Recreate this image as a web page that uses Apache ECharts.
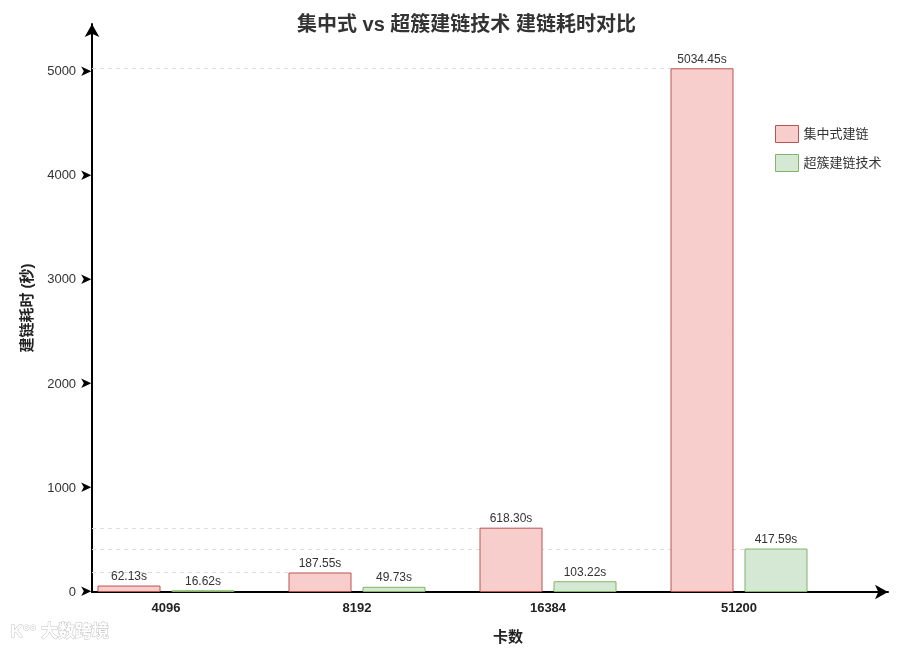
<!DOCTYPE html>
<html>
<head>
<meta charset="utf-8">
<script src="https://cdn.jsdelivr.net/npm/echarts@6/dist/echarts.min.js"></script>
<style>
  html, body { margin: 0; padding: 0; background: #fff; }
  #chart { width: 900px; height: 650px; }
</style>
</head>
<body>
<div id="chart"></div>
<script>
// ---- data ----
const categories = ['4096', '8192', '16384', '51200'];
const centralized = [62.13, 187.55, 618.30, 5034.45];
const superCluster = [16.62, 49.73, 103.22, 417.59];
const seriesNames = ['集中式建链', '超簇建链技术'];
const yTickValues = [0, 1000, 2000, 3000, 4000, 5000];
// dashed guide lines drawn from the y axis to these bars (series index, category index)
const guideBars = [[0, 1], [0, 2], [1, 3], [0, 3]];

// ---- layout / style constants ----
const FONT = '"Liberation Sans", "Noto Sans CJK SC", sans-serif';
const AXIS_X = 92;
const BAR_W = 63;
const BAR_GAP = 11;
const TOP = 24, BOTTOM = 58;
const Y_MAX = 5460;

const seriesValues = [centralized, superCluster];
const guideData = guideBars.map(([s, c]) => [c, seriesValues[s][c], s]);

const chart = echarts.init(document.getElementById('chart'));
chart.setOption({
  backgroundColor: '#fff',
  textStyle: { fontFamily: FONT },
  animation: false,
  title: {
    text: '集中式 vs 超簇建链技术 建链耗时对比',
    left: 292, top: 10,
    textStyle: { fontSize: 20, fontWeight: 'bold', color: '#333', fontFamily: FONT }
  },
  legend: {
    data: seriesNames,
    orient: 'vertical',
    left: 775, top: 125, padding: 0,
    itemWidth: 23, itemHeight: 17, itemGap: 11,
    icon: 'rect',
    itemStyle: { borderWidth: 1 },
    textStyle: { fontSize: 13, color: '#333', fontFamily: FONT }
  },
  grid: [
    { left: 70.5, right: 65.5, top: TOP, bottom: BOTTOM },
    { left: AXIS_X, right: 12, top: TOP, bottom: BOTTOM }
  ],
  xAxis: [
    {
      type: 'category', gridIndex: 0, data: categories,
      axisLine: { show: false }, axisTick: { show: false },
      axisLabel: { fontSize: 13, fontWeight: 'bold', color: '#222', margin: 10, fontFamily: FONT },
      splitLine: { show: false }
    },
    {
      type: 'value', gridIndex: 1, min: 0, max: 1,
      axisLine: { show: true, symbol: ['none', 'arrow'], symbolSize: [11, 13], lineStyle: { color: '#000', width: 2 } },
      axisTick: { show: false }, axisLabel: { show: false }, splitLine: { show: false },
      name: '卡数', nameLocation: 'middle', nameGap: 38,
      nameTextStyle: { fontSize: 15, fontWeight: 'bold', color: '#222', padding: [0, 0, 0, 36], fontFamily: FONT }
    }
  ],
  yAxis: [
    {
      type: 'value', gridIndex: 0, min: 0, max: Y_MAX, interval: 1000,
      show: false, splitLine: { show: false }
    },
    {
      type: 'value', gridIndex: 1, min: 0, max: Y_MAX, interval: 1000,
      axisLine: { show: true, symbol: ['none', 'arrow'], symbolSize: [11, 13], lineStyle: { color: '#000', width: 2 } },
      axisTick: { show: false }, splitLine: { show: false },
      axisLabel: {
        margin: 0,
        formatter: v => yTickValues.includes(v) ? '{v|' + v + '} {a|➤}' : '',
        rich: {
          v: { fontSize: 13, color: '#333', fontFamily: FONT },
          a: { fontSize: 15, color: '#000', fontFamily: 'DejaVu Sans' }
        }
      },
      name: '建链耗时 (秒)', nameLocation: 'middle', nameGap: 57,
      nameTextStyle: { fontSize: 15, fontWeight: 'bold', color: '#222', fontFamily: FONT }
    }
  ],
  series: [
    {
      type: 'custom', xAxisIndex: 0, yAxisIndex: 0, z: 1, silent: true,
      data: guideData,
      renderItem: (params, api) => {
        const pt = api.coord([api.value(0), api.value(1)]);
        const left = pt[0] - (BAR_W * 2 + BAR_GAP) / 2 + api.value(2) * (BAR_W + BAR_GAP);
        return {
          type: 'line',
          shape: { x1: AXIS_X, y1: Math.round(pt[1]) + 0.5, x2: left, y2: Math.round(pt[1]) + 0.5 },
          style: { stroke: '#dddddd', lineWidth: 1, lineDash: [4, 4] }
        };
      }
    },
    {
      name: seriesNames[0], type: 'bar', xAxisIndex: 0, yAxisIndex: 0, z: 2,
      data: centralized, barWidth: BAR_W, barGap: (BAR_GAP / BAR_W * 100) + '%',
      itemStyle: { color: '#f8cecc', borderColor: '#b85450', borderWidth: 1 },
      label: { show: true, position: 'top', distance: 3, fontSize: 12, color: '#333',
        fontFamily: FONT, formatter: p => p.value.toFixed(2) + 's' }
    },
    {
      name: seriesNames[1], type: 'bar', xAxisIndex: 0, yAxisIndex: 0, z: 2,
      data: superCluster, barWidth: BAR_W,
      itemStyle: { color: '#d5e8d4', borderColor: '#82b366', borderWidth: 1 },
      label: { show: true, position: 'top', distance: 3, fontSize: 12, color: '#333',
        fontFamily: FONT, formatter: p => p.value.toFixed(2) + 's' }
    }
  ],
  graphic: [
    {
      type: 'text', left: 10, top: 623, silent: true,
      style: { text: 'K°° 大数跨境', fontSize: 17, fontWeight: 'bold', fill: '#ffffff',
        stroke: '#c4c4c4', lineWidth: 1, fontFamily: FONT }
    }
  ]
});
</script>
</body>
</html>
